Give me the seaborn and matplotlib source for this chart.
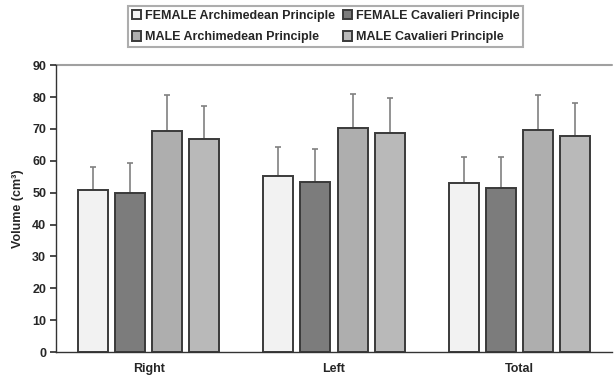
import matplotlib
matplotlib.use("Agg")
import matplotlib.pyplot as plt
import seaborn as sns
import pandas as pd
import numpy as np

categories = ["Right", "Left", "Total"]
series = ["FEMALE Archimedean Principle", "FEMALE Cavalieri Principle",
          "MALE Archimedean Principle", "MALE Cavalieri Principle"]
fem_arch = [50.8, 55.1, 52.9]
fem_cav = [49.8, 53.2, 51.6]
male_arch = [69.2, 70.3, 69.8]
male_cav = [66.8, 68.6, 67.7]
fem_arch_sd = [7.2, 9.1, 8.2]
fem_cav_sd = [9.5, 10.4, 9.6]
male_arch_sd = [11.3, 10.8, 10.7]
male_cav_sd = [10.4, 11.1, 10.3]
yticks = list(range(0, 91, 10))

means = [fem_arch, fem_cav, male_arch, male_cav]
sds = [fem_arch_sd, fem_cav_sd, male_arch_sd, male_cav_sd]
rows = []
for s, m, e in zip(series, means, sds):
    for c, v, d in zip(categories, m, e):
        rows.append({"cat": c, "series": s, "value": v, "sd": d})
df = pd.DataFrame(rows)

sns.set_theme(style="white")
plt.rcParams['font.family'] = ['Liberation Sans', 'DejaVu Sans']

colors = ["#f2f2f2", "#7c7c7c", "#aeaeae", "#b9b9b9"]
fig = plt.figure(figsize=(6.14, 3.79), dpi=100)
ax = fig.add_axes([0.091, 0.071, 0.906, 0.757])
sns.barplot(data=df, x="cat", y="value", hue="series", order=categories,
            hue_order=series, palette=colors, width=0.8, gap=0.19,
            edgecolor="#3a3a3a", linewidth=1.4, errorbar=None, ax=ax,
            saturation=1)

# error bars (upper only)
for cont, s in zip(ax.containers, series):
    sub = df[df.series == s].set_index("cat").loc[categories]
    xs = [p.get_x() + p.get_width() / 2 for p in cont.patches]
    ys = sub["value"].values
    err = sub["sd"].values
    ax.errorbar(xs, ys, yerr=[np.zeros_like(err), err], fmt="none",
                ecolor="#808080", elinewidth=1.2, capsize=2.2, capthick=1.2,
                zorder=1)
for p in ax.patches:
    p.set_zorder(2)

ax.set_ylim(0, 90)
ax.set_xlim(-0.5, 2.5)
ax.set_yticks(yticks)
ax.set_yticklabels([str(t) for t in yticks], fontsize=9, fontweight="bold")
ax.set_xticks(range(len(categories)))
ax.set_xticklabels(categories, fontsize=9, fontweight="bold")
ax.tick_params(axis="x", length=0, pad=8)
ax.set_xticks([-0.5, 0.5, 1.5, 2.5], minor=True)
ax.tick_params(axis="x", which="minor", length=3, color="#333333", direction="out")
ax.tick_params(axis="y", length=4, color="#333333", direction="out", left=True, pad=3)
ax.set_xlabel("")
ax.set_ylabel("Volume (cm³)", fontsize=9, fontweight="bold", labelpad=6)

for side in ["right", "top"]:
    ax.spines[side].set_visible(False)
for side in ["left", "bottom"]:
    ax.spines[side].set_color("#333333")
    ax.spines[side].set_linewidth(1.0)
ax.axhline(90, color="#a0a0a0", linewidth=1.5, zorder=0, clip_on=False)

handles, labels = ax.get_legend_handles_labels()
ax.get_legend().remove()
order = [0, 2, 1, 3]
leg = fig.legend([handles[i] for i in order], [labels[i] for i in order],
                 loc="upper left", bbox_to_anchor=(0.205, 0.99),
                 ncol=2, frameon=True, fancybox=False, edgecolor="#999999",
                 prop={"size": 9, "weight": "bold"}, handlelength=0.75,
                 handleheight=0.75, handletextpad=0.3, columnspacing=0.6,
                 labelspacing=0.75, borderpad=0.3, borderaxespad=0.2)
leg.get_frame().set_linewidth(1.5)

fig.savefig("out.png", dpi=100)
